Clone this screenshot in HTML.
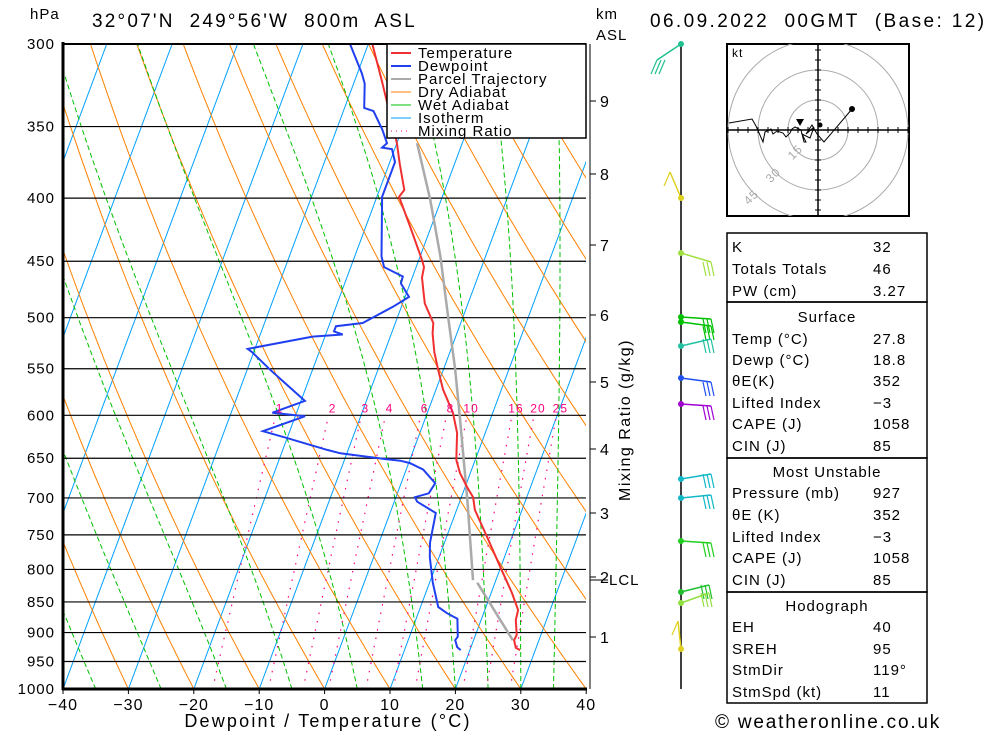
<!DOCTYPE html>
<html><head><meta charset="utf-8"><style>
body{margin:0;background:#fff;}
svg{display:block;font-family:"Liberation Sans",sans-serif;}
text{letter-spacing:1px;}
</style></head><body>
<svg id="c" width="1000" height="733" viewBox="0 0 1000 733">
<defs><clipPath id="plotclip"><rect x="63" y="44" width="523" height="645"/></clipPath>
<clipPath id="hodoclip"><rect x="727" y="44" width="182" height="172"/></clipPath></defs>
<g id="bg" clip-path="url(#plotclip)"></g>
<g id="isobars"></g>
<g id="profiles" clip-path="url(#plotclip)"></g>
<g id="axes"></g>
<g id="legend" style="letter-spacing:1.6px">
<rect x="387" y="44" width="199" height="94" fill="#fff" stroke="#000" stroke-width="1.5"/>
<line x1="391" y1="53" x2="411" y2="53" stroke="#f03030" stroke-width="2"/><text x="418" y="58" font-size="15">Temperature</text>
<line x1="391" y1="66" x2="411" y2="66" stroke="#2040f0" stroke-width="2"/><text x="418" y="71" font-size="15">Dewpoint</text>
<line x1="391" y1="79" x2="411" y2="79" stroke="#aaa" stroke-width="2"/><text x="418" y="84" font-size="15">Parcel Trajectory</text>
<line x1="391" y1="92" x2="411" y2="92" stroke="#ff8000" stroke-width="1"/><text x="418" y="97" font-size="15">Dry Adiabat</text>
<line x1="391" y1="105" x2="411" y2="105" stroke="#00c000" stroke-width="1"/><text x="418" y="110" font-size="15">Wet Adiabat</text>
<line x1="391" y1="118" x2="411" y2="118" stroke="#00a0ff" stroke-width="1"/><text x="418" y="123" font-size="15">Isotherm</text>
<line x1="391" y1="131" x2="411" y2="131" stroke="#ff0080" stroke-width="1" stroke-dasharray="1,4"/><text x="418" y="136" font-size="15">Mixing Ratio</text>
</g>
<text x="30" y="19" font-size="15">hPa</text>
<text x="92" y="27" font-size="19" style="letter-spacing:2.2px" xml:space="preserve">32°07'N  249°56'W  800m  ASL</text>
<text x="596" y="19" font-size="15">km</text>
<text x="596" y="40" font-size="15">ASL</text>
<text x="650" y="27" font-size="19" style="letter-spacing:2.4px" xml:space="preserve">06.09.2022  00GMT  (Base: 12)</text>
<text x="328" y="727" font-size="18" style="letter-spacing:2.2px" text-anchor="middle">Dewpoint / Temperature (°C)</text>
<text x="630" y="420" font-size="16" style="letter-spacing:1.5px" text-anchor="middle" transform="rotate(-90 630 420)">Mixing Ratio (g/kg)</text>
<text x="715" y="728" font-size="19" style="letter-spacing:1.8px">© weatheronline.co.uk</text>
<g id="winds"></g>
<g id="hodo"></g>
<g id="table" style="letter-spacing:1.9px"></g>
</svg>
<script>
// ---- data ----
const tempP=[300,321,361,375,394,399,422,449,455,464,475,487,505,515,533,551,572,597,620,652,668,686,699,716,753,796,836,863,879,904,913,926,930];
const tempT=[-29.4,-25.9,-20.0,-18.4,-16.2,-16.6,-13.2,-9.5,-8.8,-8.5,-7.6,-6.6,-4.2,-3.7,-2.4,-0.8,1.1,3.9,5.7,7.1,8.4,10.3,11.8,12.8,16.2,19.9,23.2,25.1,25.3,26.3,26.2,26.9,27.7];
const dewP=[300,317,323,338,340,352,361,364,365,374,399,446,455,463,469,481,490,505,508,513,516,518,530,533,551,584,597,601,618,626,640,644,651,653,656,664,681,694,699,705,720,761,782,820,858,868,877,907,913,925,930];
const dewT=[-32.8,-29.3,-28.3,-27.0,-25.4,-23.0,-21.5,-22.0,-20.4,-19.2,-19.2,-15.9,-14.9,-11.5,-11.4,-9.4,-11.3,-15.0,-18.9,-18.9,-17.4,-21.9,-31.1,-30.3,-26.5,-19.4,-23.7,-18.5,-24.1,-20.0,-13.2,-11.0,-3.9,-1.4,0.2,2.6,5.2,4.8,2.9,3.5,7.0,7.8,8.6,10.5,12.7,14.4,16.3,17.4,17.2,17.9,18.6];
const parcelP=[361,401,446,499,551,605,707,816];
const parcelT=[-16.9,-11.7,-6.9,-2.3,1.8,5.4,11.3,16.5];
const parcelLowP=[820,852,913];
const parcelLowT=[17.3,20.4,26.0];
const isobars=[300,350,400,450,500,550,600,650,700,750,800,850,900,950,1000];
const xTicks=[-40,-30,-20,-10,0,10,20,30,40];
const mixRatios=[1,2,3,4,6,8,10,16,20,25];
const wetStarts=[-35,-25,-15,-5,5,15,20,25,30,35];
const kmLevels=[1,2,3,4,5,6,7,8,9];
const kmY=[637,577,513,449,382,315,245,174,101];
// ---- axes ----
const NS='http://www.w3.org/2000/svg';
function yP(p){return 689-Math.log(1000/p)/Math.log(1000/300)*645;}
function xT(T,p){return 63+6.54*(T+40)+0.372*(689-yP(p));}
function mk(tag,attrs,parent){const e=document.createElementNS(NS,tag);for(const k in attrs)e.setAttribute(k,attrs[k]);parent.appendChild(e);return e;}
function pathFrom(ps,ts){return ps.map((p,i)=>(i?'L':'M')+xT(ts[i],p).toFixed(1)+','+yP(p).toFixed(1)).join('');}
const bg=document.getElementById('bg');
for(let T=-120;T<=40;T+=10){const l=mk('line',{x1:xT(T,1000),y1:yP(1000),x2:xT(T,300),y2:yP(300),stroke:'#00a0ff','stroke-width':1},bg);

}
for(let th=-60;th<=160;th+=10){const ps=[],ts=[];for(let p=1000;p>=295;p-=10){ps.push(p);ts.push((th+273.15)*Math.pow(p/1000,0.286)-273.15);}
const e=mk('path',{d:pathFrom(ps,ts),fill:'none',stroke:'#ff8000','stroke-width':1},bg);

}
for(const t0 of wetStarts){let T=t0+273.15;const ps=[],ts=[];for(let p=1000;p>=295;p-=5){ps.push(p);ts.push(T-273.15);
const es=6.112*Math.exp(17.67*(T-273.15)/(T-29.65));const rs=0.622*es/(p-es);
const d=(287*T+2.5e6*rs)/(p*(1004+2.5e6*2.5e6*rs*0.622/(287*T*T)));T-=d*5;}
const e=mk('path',{d:pathFrom(ps,ts),fill:'none',stroke:'#00c000','stroke-width':1,'stroke-dasharray':'5,3'},bg);

}
function tdFromW(w,p){const e=w*p/(622+w);const l=Math.log(e/6.112);return 243.5*l/(17.67-l);}
const axes=document.getElementById('axes');
for(const w of mixRatios){const ps=[],ts=[];for(let p=1000;p>=600;p-=20){ps.push(p);ts.push(tdFromW(w,p));}
const e=mk('path',{d:pathFrom(ps,ts),fill:'none',stroke:'#ff0080','stroke-width':1.2,'stroke-dasharray':'1.5,7'},bg);


const t=mk('text',{x:xT(tdFromW(w,600),600)+4,y:yP(600)-3,'font-size':12,fill:'#ff0080','text-anchor':'middle'},axes);t.textContent=w;

}
const ib=document.getElementById('isobars');
for(const p of isobars){const l=mk('line',{x1:63,y1:yP(p),x2:586,y2:yP(p),stroke:'#000','stroke-width':1.2},ib);


const t=mk('text',{x:55,y:yP(p)+5,'font-size':15,'text-anchor':'end'},axes);t.textContent=p;

}
mk('line',{x1:63,y1:42,x2:63,y2:690,stroke:'#000','stroke-width':3},axes);
mk('line',{x1:62,y1:689,x2:587,y2:689,stroke:'#000','stroke-width':3},axes);
mk('line',{x1:63,y1:44,x2:586,y2:44,stroke:'#000','stroke-width':2},axes);
for(const T of xTicks){const x=63+6.54*(T+40);mk('line',{x1:x,y1:689,x2:x,y2:694,stroke:'#000'},axes);
const t=mk('text',{x:x,y:710,'font-size':16,'text-anchor':'middle'},axes);t.textContent=(T<0?'−':'')+Math.abs(T);

}
mk('line',{x1:590,y1:44,x2:590,y2:689,stroke:'#000','stroke-width':1},axes);
kmLevels.forEach((k,i)=>{mk('line',{x1:590,y1:kmY[i],x2:596,y2:kmY[i],stroke:'#000'},axes);
const t=mk('text',{x:600,y:kmY[i]+6,'font-size':16},axes);t.textContent=k;

});
mk('line',{x1:590,y1:580,x2:608,y2:580,stroke:'#000'},axes);
const lcl=mk('text',{x:609,y:585,'font-size':15},axes);lcl.textContent='LCL';


const pr=document.getElementById('profiles');
let e;
e=mk('path',{d:pathFrom(parcelP,parcelT),fill:'none',stroke:'#aaa','stroke-width':2.5},pr);


e=mk('path',{d:pathFrom(parcelLowP,parcelLowT),fill:'none',stroke:'#aaa','stroke-width':2.5},pr);


e=mk('path',{d:pathFrom(tempP,tempT),fill:'none',stroke:'#f03030','stroke-width':2},pr);


e=mk('path',{d:pathFrom(dewP,dewT),fill:'none',stroke:'#2040f0','stroke-width':2},pr);


const wg=document.getElementById('winds');
mk('line',{x1:681,y1:44,x2:681,y2:689,stroke:'#000','stroke-width':1.5},wg);
const barbY=[44,198,253,317,322,346,378,404,479,498,541,592,603,649];
const barbC=['#20c090','#e0d020','#a0e040','#00c000','#00c000','#20c0a0','#2050f0','#a000d0','#10b8c8','#10b8c8','#20d020','#20c030','#90e040','#e0d020'];
const barbDX=[-24,-11,30,30,30,30,30,30,30,30,30,28,28,-3];
const barbDY=[16,-26,9,2,4,-7,4,2,-5,-3,2,-7,-10,-28];
barbY.forEach((y,i)=>{const x2=681+barbDX[i],y2=y+barbDY[i];
const g=mk('g',{},wg);


mk('line',{x1:681,y1:y,x2:x2,y2:y2,stroke:barbC[i],'stroke-width':1.5},g);
const n=Math.abs(barbDX[i])>20?3:1;
for(let k=0;k<n;k++){const bx=x2-(barbDX[i]>0?k*4:-k*4);mk('line',{x1:bx,y1:y2,x2:bx+(barbDX[i]>0?3:-6),y2:y2+14,stroke:barbC[i],'stroke-width':1.2},g);}
mk('circle',{cx:681,cy:y,r:3,fill:barbC[i]},g);});
const hg=document.getElementById('hodo');
mk('rect',{x:727,y:44,width:182,height:172,fill:'#fff',stroke:'#000','stroke-width':2},hg);
const hc=mk('g',{'clip-path':'url(#hodoclip)'},hg);
const cx=818,cy=130;
for(const r of [30,60,90])mk('circle',{cx:cx,cy:cy,r:r,fill:'none',stroke:'#aaa'},hc);
mk('line',{x1:727,y1:cy,x2:909,y2:cy,stroke:'#000','stroke-width':1.5},hc);
mk('line',{x1:cx,y1:44,x2:cx,y2:216,stroke:'#000','stroke-width':1.5},hc);
for(let d=-90;d<=90;d+=10){mk('line',{x1:cx+d,y1:cy-3,x2:cx+d,y2:cy+3,stroke:'#000'},hc);mk('line',{x1:cx-3,y1:cy+d,x2:cx+3,y2:cy+d,stroke:'#000'},hc);}
const hodoU=[-89,-66,-62,-55,-53,-47,-45,-41,-35,-32,-28,-26,-23,-17,-14,-12,-16,-8,-4,-12,-6,-1,6,34];
const hodoV=[7,11,4,-12,-2,1,-4,-1,-3,-7,-3,1,3,0,-12,-12,-4,-8,3,-4,5,-4,-12,21];
mk('path',{d:hodoU.map((u,i)=>(i?'L':'M')+(cx+u)+','+(cy-hodoV[i])).join(''),fill:'none',stroke:'#000','stroke-width':1},hc);
mk('circle',{cx:cx+34,cy:cy-21,r:3,fill:'#000'},hc);
mk('circle',{cx:cx+2,cy:cy-5,r:2.5,fill:'#000'},hc);
mk('path',{d:'M'+(cx-22)+','+(cy-11)+'l8,0l-4,7z',fill:'#000'},hc);
const kt=mk('text',{x:732,y:57,'font-size':12},hg);kt.textContent='kt';
[['15',-20,25],['30',-42,48],['45',-64,70]].forEach(a=>{const t=mk('text',{x:cx+a[1],y:cy+a[2],'font-size':12,fill:'#aaa','text-anchor':'middle',transform:'rotate(-45 '+(cx+a[1])+' '+(cy+a[2])+')'},hc);t.textContent=a[0];});
const tb=document.getElementById('table');
[[233,302],[302,458],[458,592],[592,703]].forEach(b=>{mk('rect',{x:727,y:b[0],width:200,height:b[1]-b[0],fill:'none',stroke:'#000','stroke-width':1.5},tb);});
const rows=[[246,'K','32'],[268,'Totals Totals','46'],[290,'PW (cm)','3.27'],[316,'Surface',null],[338,'Temp (°C)','27.8'],[359,'Dewp (°C)','18.8'],[380,'θE(K)','352'],[402,'Lifted Index','−3'],[423,'CAPE (J)','1058'],[445,'CIN (J)','85'],[471,'Most Unstable',null],[492,'Pressure (mb)','927'],[514,'θE (K)','352'],[536,'Lifted Index','−3'],[557,'CAPE (J)','1058'],[579,'CIN (J)','85'],[605,'Hodograph',null],[626,'EH','40'],[648,'SREH','95'],[669,'StmDir','119°'],[691,'StmSpd (kt)','11']];
rows.forEach(r=>{if(r[2]===null){const t=mk('text',{x:827,y:r[0]+6,'font-size':15,'text-anchor':'middle'},tb);t.textContent=r[1];}
else{const t=mk('text',{x:732,y:r[0]+6,'font-size':15},tb);t.textContent=r[1];
const v=mk('text',{x:873,y:r[0]+6,'font-size':15},tb);v.textContent=r[2];}});
</script>
</body></html>
